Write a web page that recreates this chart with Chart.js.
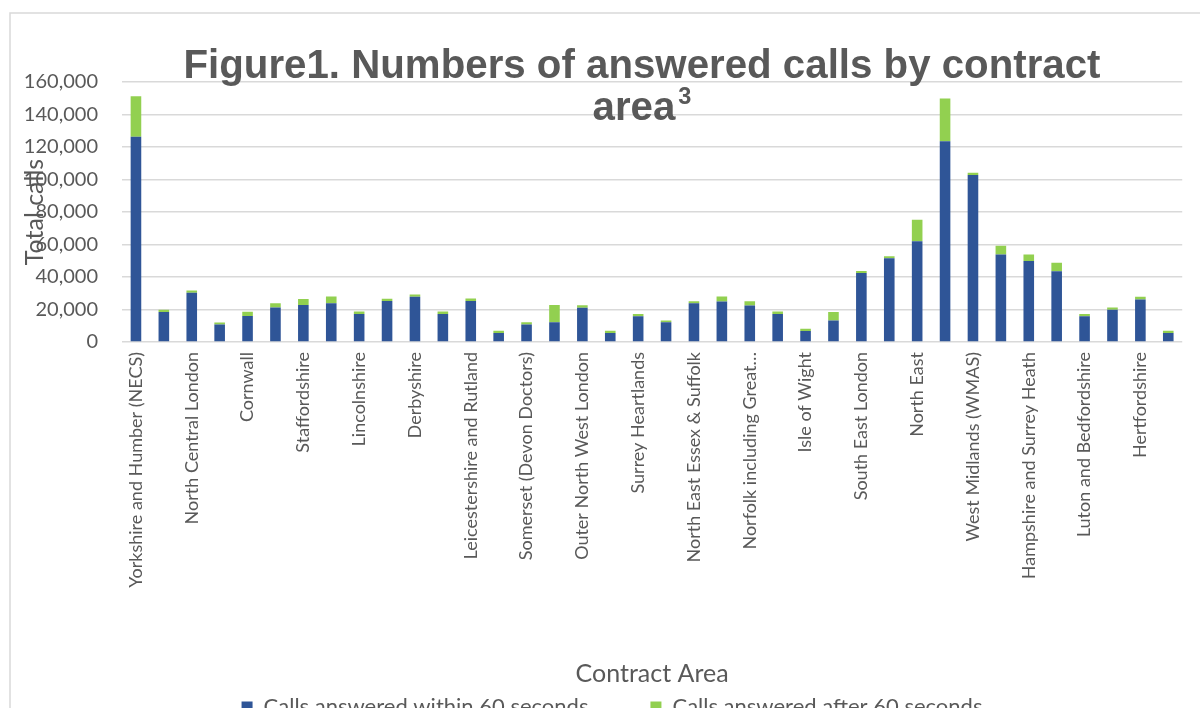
<!DOCTYPE html>
<html>
<head>
<meta charset="utf-8">
<script src="https://cdn.jsdelivr.net/npm/chart.js@4.4.1/dist/chart.umd.min.js"></script>
<style>
  html, body { margin: 0; padding: 0; background: #fff; }
</style>
</head>
<body>
<canvas id="myChart" width="1200" height="708"></canvas>
<script>
// contract areas (only every other one is labelled on the axis)
var contractAreas = [
  'Yorkshire and Humber (NECS)', 'North East London',
  'North Central London', 'Devon',
  'Cornwall', 'Shropshire',
  'Staffordshire', 'Nottinghamshire',
  'Lincolnshire', 'Northamptonshire',
  'Derbyshire', 'Milton Keynes',
  'Leicestershire and Rutland', 'Bristol, North Somerset and South Gloucestershire',
  'Somerset (Devon Doctors)', 'Dorset',
  'Outer North West London', 'West Essex',
  'Surrey Heartlands', 'Buckinghamshire',
  'North East Essex & Suffolk', 'Mid and South Essex',
  'Norfolk including Great Yarmouth and Waveney', 'Cambridgeshire and Peterborough',
  'Isle of Wight', 'Oxfordshire',
  'South East London', 'South West London',
  'North East', 'North West (NWAS)',
  'West Midlands (WMAS)', 'East London and City',
  'Hampshire and Surrey Heath', 'Gloucestershire',
  'Luton and Bedfordshire', 'Bath and North East Somerset',
  'Hertfordshire', 'Wiltshire'
];

var answeredWithin60 = [
  126300, 18500, 30300, 10800, 16000, 21200, 22700, 23900, 17300, 25200,
  27800, 17300, 25200, 5500, 10800, 12200, 21100, 5500, 15900, 12100,
  23800, 25000, 22500, 17200, 6700, 13300, 42500, 51500, 62000, 123500,
  102700, 53900, 49800, 43500, 15900, 19800, 26200, 5500
];

var answeredAfter60 = [
  25000, 1400, 1400, 1200, 2600, 2600, 3800, 4100, 1500, 1400,
  1400, 1500, 1500, 1400, 1400, 10500, 1500, 1400, 1400, 1200,
  1300, 3000, 2600, 1500, 1400, 5200, 1200, 1200, 13300, 26400,
  1500, 5400, 4100, 5300, 1400, 1400, 1600, 1400
];

var seriesNames = ['Calls answered within 60 seconds', 'Calls answered after 60 seconds'];
var chartTitle = ['Figure1. Numbers of answered calls by contract', 'area'];
var titleSup = '3';

var greyText = '#595959';
var gridGrey = '#d9d9d9';
var bodyFont = 'Lato, "Open Sans", sans-serif';

// outer frame + overlaid title (the title sits on top of the plot, like Excel does)
var frameAndTitle = {
  id: 'frameAndTitle',
  afterLayout: function(chart) {
    // legend sits a little right of centre in the original
    chart.legend.left += 17;
    chart.legend.right += 17;
  },
  beforeDraw: function(chart) {
    var c = chart.ctx;
    c.save();
    c.strokeStyle = gridGrey;
    c.lineWidth = 1.5;
    c.strokeRect(10, 13, 1400, 900);
    c.restore();
  },
  afterDraw: function(chart) {
    var c = chart.ctx;
    var big = 'bold 41px "Liberation Sans", Arial, sans-serif';
    var small = 'bold 24px "Liberation Sans", Arial, sans-serif';
    c.save();
    c.fillStyle = greyText;
    c.textBaseline = 'alphabetic';
    c.font = big;
    var sx = 917 / c.measureText(chartTitle[0]).width;
    c.translate(642, 0);
    c.scale(sx, 1);
    c.textAlign = 'center';
    c.fillText(chartTitle[0], 0, 78);
    c.textAlign = 'left';
    var wa = c.measureText(chartTitle[1]).width;
    c.font = small;
    var w3 = c.measureText(titleSup).width;
    var x0 = -(wa + w3 + 3) / 2;
    c.font = big;
    c.fillText(chartTitle[1], x0, 120);
    c.font = small;
    c.fillText(titleSup, x0 + wa + 3, 104);
    c.restore();
  }
};

var ctx = document.getElementById('myChart').getContext('2d');
var myChart = new Chart(ctx, {
  type: 'bar',
  data: {
    labels: contractAreas,
    datasets: [
      {
        label: seriesNames[0],
        data: answeredWithin60,
        backgroundColor: '#2f5597',
        borderWidth: 0
      },
      {
        label: seriesNames[1],
        data: answeredAfter60,
        backgroundColor: '#92d050',
        borderWidth: 0
      }
    ]
  },
  options: {
    responsive: false,
    animation: false,
    layout: { padding: { top: 82, left: 0, right: 10, bottom: -20 } },
    datasets: { bar: { categoryPercentage: 1, barPercentage: 0.38 } },
    plugins: {
      title: { display: false },
      tooltip: { enabled: false },
      legend: {
        position: 'bottom',
        labels: {
          color: greyText,
          font: { family: bodyFont, size: 22 },
          boxWidth: 11,
          boxHeight: 11,
          padding: 62
        }
      }
    },
    scales: {
      x: {
        stacked: true,
        grid: { display: false, drawTicks: false },
        border: { display: false },
        ticks: {
          autoSkip: false,
          maxRotation: 90,
          minRotation: 90,
          padding: 10,
          color: greyText,
          font: { family: bodyFont, size: 18 },
          callback: function(v, i) {
            if (i % 2) return '';
            var s = contractAreas[i];
            return s.length > 30 ? s.slice(0, 23) + '\u2026' : s;
          }
        },
        title: {
          display: true,
          text: 'Contract Area',
          color: greyText,
          font: { family: bodyFont, size: 25 },
          padding: { top: 0, bottom: -55 }
        },
        afterFit: function(scale) {
          scale.height = 708 + 20 - scale.chart.legend.height - 342;
        }
      },
      y: {
        stacked: true,
        min: 0,
        max: 160000,
        grid: { color: gridGrey, lineWidth: 1.5, drawTicks: false },
        border: { display: false },
        ticks: {
          stepSize: 20000,
          padding: 24,
          color: greyText,
          font: { family: bodyFont, size: 20 },
          callback: function(v) { return v.toLocaleString('en-GB'); }
        },
        title: {
          display: true,
          text: 'Total calls',
          color: greyText,
          font: { family: bodyFont, size: 25 },
          padding: { top: 20, bottom: 0 }
        },
        afterFit: function(scale) {
          scale.width = 122;
        }
      }
    }
  },
  plugins: [frameAndTitle]
});
</script>
</body>
</html>
